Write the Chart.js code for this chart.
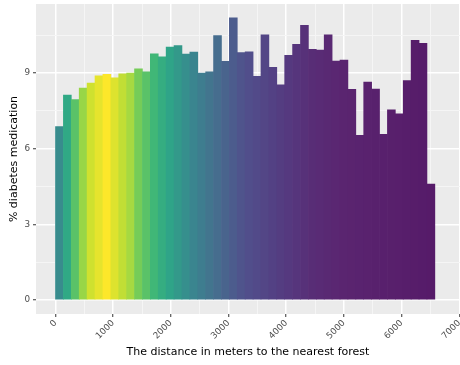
<!DOCTYPE html>
<html>
<head>
<meta charset="utf-8">
<script src="https://cdn.jsdelivr.net/npm/chart.js@4.4.1/dist/chart.umd.min.js"></script>
<style>
  html, body { margin: 0; padding: 0; background: #ffffff; }
  #wrap { width: 460px; height: 365px; }
</style>
</head>
<body>
<div id="wrap"><canvas id="chart" width="460" height="365"></canvas></div>
<script>
// Bin starts (metres to the nearest forest), bin width 137 m
const binStarts = [
  0, 137, 274, 411, 548, 685, 822, 959, 1096, 1233, 1370, 1507,
  1644, 1781, 1918, 2055, 2192, 2329, 2466, 2603, 2740, 2877, 3014, 3151,
  3288, 3425, 3562, 3699, 3836, 3973, 4110, 4247, 4384, 4521, 4658, 4795,
  4932, 5069, 5206, 5343, 5480, 5617, 5754, 5891, 6028, 6165, 6302, 6439
];
const binWidth = 137;

// Share of people on diabetes medication in each bin (%)
const diabetesPct = [
  6.88, 8.13, 7.95, 8.41, 8.60, 8.89, 8.95, 8.81, 8.97, 9.00, 9.17, 9.05,
  9.76, 9.64, 10.03, 10.09, 9.75, 9.83, 9.00, 9.05, 10.49, 9.47, 11.19, 9.81,
  9.84, 8.87, 10.52, 9.23, 8.53, 9.70, 10.14, 10.89, 9.94, 9.91, 10.52, 9.48,
  9.52, 8.36, 6.53, 8.64, 8.37, 6.57, 7.54, 7.38, 8.70, 10.30, 10.18, 4.60
];

// Relative number of people per bin (0 = fewest, 1 = most), used for the fill
const binShare = [
  0.52, 0.61, 0.73, 0.82, 0.90, 0.95, 1.00, 0.93, 0.88, 0.84, 0.77, 0.73,
  0.68, 0.63, 0.59, 0.56, 0.53, 0.50, 0.47, 0.44, 0.41, 0.38, 0.35, 0.32,
  0.30, 0.28, 0.26, 0.24, 0.22, 0.20, 0.18, 0.16, 0.14, 0.13, 0.12, 0.11,
  0.10, 0.09, 0.08, 0.07, 0.06, 0.05, 0.045, 0.04, 0.03, 0.02, 0.01, 0.00
];

// Labelled axis breaks
const xBreaks = [0, 1000, 2000, 3000, 4000, 5000, 6000, 7000];
const yBreaks = [0, 3, 6, 9];

const X_MIN = -338, X_MAX = 7012;
const Y_MIN = -0.555, Y_MAX = 11.74;

// viridis-like colour ramp
const rampStops = [
  [0.00, '#561b69'], [0.10, '#5a2570'], [0.20, '#55397f'], [0.30, '#514e8b'],
  [0.40, '#476a8e'], [0.50, '#3a858f'], [0.60, '#2ea787'], [0.70, '#45bb73'],
  [0.80, '#8ad34d'], [0.90, '#cfe12f'], [1.00, '#fde72a']
];
function hexToRgb(h) {
  return [parseInt(h.slice(1, 3), 16), parseInt(h.slice(3, 5), 16), parseInt(h.slice(5, 7), 16)];
}
function ramp(t) {
  for (let i = 1; i < rampStops.length; i++) {
    const [t1, c1] = rampStops[i];
    const [t0, c0] = rampStops[i - 1];
    if (t <= t1) {
      const f = (t - t0) / (t1 - t0);
      const a = hexToRgb(c0), b = hexToRgb(c1);
      const c = a.map((v, k) => Math.round(v + (b[k] - v) * f));
      return `rgb(${c[0]},${c[1]},${c[2]})`;
    }
  }
  return rampStops[rampStops.length - 1][1];
}

// Major breaks plus the minor breaks half-way between them (ggplot-style)
function withMinor(breaks, lo, hi) {
  const step = breaks[1] - breaks[0];
  const out = [];
  const first = breaks[0] - step / 2;
  for (let v = first; v <= hi + 1e-9; v += step / 2) {
    if (v >= lo) out.push({ value: Math.round(v * 1000) / 1000 });
  }
  return out;
}
function majorSet(breaks) {
  return new Set(breaks.map(String));
}
const xMajor = majorSet(xBreaks);
const yMajor = majorSet(yBreaks);
const isMajorX = c => !!(c.tick && xMajor.has(String(c.tick.value)));
const isMajorY = c => !!(c.tick && yMajor.has(String(c.tick.value)));

const points = binStarts.map((s, i) => ({ x: s + binWidth / 2, y: diabetesPct[i] }));
const fills = binShare.map(ramp);

const panelBg = {
  id: 'panelBg',
  beforeDraw(chart) {
    const { ctx, chartArea: a } = chart;
    ctx.save();
    ctx.fillStyle = '#ebebeb';
    ctx.fillRect(a.left, a.top, a.right - a.left, a.bottom - a.top);
    ctx.restore();
  }
};

const FONT = "'DejaVu Sans', sans-serif";

new Chart(document.getElementById('chart'), {
  type: 'bar',
  data: {
    datasets: [{
      data: points,
      backgroundColor: fills,
      borderWidth: 0,
      barPercentage: 1,
      categoryPercentage: 1
    }]
  },
  options: {
    responsive: false,
    animation: false,
    events: [],
    layout: { padding: { top: 4, right: 0, left: 0, bottom: 0 } },
    plugins: { legend: { display: false }, tooltip: { enabled: false } },
    scales: {
      x: {
        type: 'linear',
        offset: false,
        min: X_MIN,
        max: X_MAX,
        afterBuildTicks(s) { s.ticks = withMinor(xBreaks, X_MIN, X_MAX); },
        afterFit(s) { s.height = 51; s.paddingLeft = 0; s.paddingRight = 0; },
        border: { display: false },
        grid: {
          offset: false,
          color: c => isMajorX(c) ? '#ffffff' : '#f5f5f5',
          lineWidth: c => isMajorX(c) ? 1.5 : 1,
          drawTicks: true,
          tickLength: 3,
          tickColor: c => isMajorX(c) ? '#333333' : 'rgba(0,0,0,0)',
          tickWidth: 1
        },
        ticks: {
          autoSkip: false,
          maxRotation: 45,
          minRotation: 45,
          padding: 1,
          color: '#4d4d4d',
          font: { family: FONT, size: 8.8 },
          callback: v => (xMajor.has(String(v)) ? String(v) : '')
        },
        title: {
          display: true,
          text: 'The distance in meters to the nearest forest',
          color: '#000000',
          font: { family: FONT, size: 11 },
          padding: { top: 0, bottom: 6 }
        }
      },
      y: {
        type: 'linear',
        min: Y_MIN,
        max: Y_MAX,
        afterBuildTicks(s) { s.ticks = withMinor(yBreaks, Y_MIN, Y_MAX); },
        afterFit(s) { s.width = 36; s.paddingTop = 0; s.paddingBottom = 0; },
        border: { display: false },
        grid: {
          color: c => isMajorY(c) ? '#ffffff' : '#f5f5f5',
          lineWidth: c => isMajorY(c) ? 1.5 : 1,
          drawTicks: true,
          tickLength: 3,
          tickColor: c => isMajorY(c) ? '#333333' : 'rgba(0,0,0,0)',
          tickWidth: 1
        },
        ticks: {
          autoSkip: false,
          padding: 3,
          color: '#4d4d4d',
          font: { family: FONT, size: 8.8 },
          callback: v => (yMajor.has(String(v)) ? String(v) : '')
        },
        title: {
          display: true,
          text: '% diabetes medication',
          color: '#000000',
          font: { family: FONT, size: 11 },
          padding: { top: 8, bottom: 0 }
        }
      }
    }
  },
  plugins: [panelBg]
});
</script>
</body>
</html>
